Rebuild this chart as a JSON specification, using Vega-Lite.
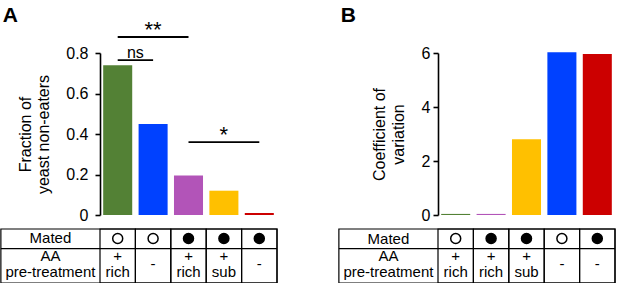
{
  "$schema": "https://vega.github.io/schema/vega-lite/v6.json",
  "padding": {"left": 0, "top": 4, "right": 0, "bottom": 0},
  "background": "white",
  "config": {
    "view": {"stroke": null},
    "font": "Liberation Sans",
    "axis": {
      "grid": false,
      "domainColor": "black",
      "domainWidth": 1.6,
      "tickColor": "black",
      "tickWidth": 1.6,
      "tickSize": 5,
      "labelFont": "Liberation Sans",
      "labelFontSize": 16,
      "labelColor": "black",
      "labelPadding": 3,
      "titleFont": "Liberation Sans",
      "titleFontSize": 16,
      "titleFontWeight": "normal",
      "titleColor": "black",
      "titleLineHeight": 18.5
    },
    "text": {"font": "Liberation Sans", "color": "black"}
  },
  "datasets": {
    "a": [
      {"cond": "unmated_rich", "value": 0.74, "mated": "no", "aa": "+\nrich"},
      {"cond": "unmated_none", "value": 0.45, "mated": "no", "aa": "-"},
      {"cond": "mated_rich", "value": 0.195, "mated": "yes", "aa": "+\nrich"},
      {"cond": "mated_sub", "value": 0.12, "mated": "yes", "aa": "+\nsub"},
      {"cond": "mated_none", "value": 0.01, "mated": "yes", "aa": "-"}
    ],
    "a_sig": [
      {"from": "unmated_rich", "to": "mated_rich", "mid": "unmated_none", "level": 0.879, "label": "**"},
      {"from": "unmated_rich", "to": "unmated_none", "mid": "unmated_none", "level": 0.765, "label": "ns"},
      {"from": "mated_rich", "to": "mated_none", "mid": "mated_sub", "level": 0.36, "label": "*"}
    ],
    "b": [
      {"cond": "unmated_rich", "value": 0.04, "mated": "no", "aa": "+\nrich"},
      {"cond": "mated_rich", "value": 0.04, "mated": "yes", "aa": "+\nrich"},
      {"cond": "mated_sub", "value": 2.81, "mated": "yes", "aa": "+\nsub"},
      {"cond": "unmated_none", "value": 6.03, "mated": "no", "aa": "-"},
      {"cond": "mated_none", "value": 5.96, "mated": "yes", "aa": "-"}
    ]
  },
  "hconcat": [
    {
      "width": 177,
      "height": 162,
      "resolve": {"scale": {"x": "independent"}},
      "layer": [
        {
          "data": {"name": "a"},
          "layer": [
            {
              "mark": {"type": "rect", "fillOpacity": 0, "stroke": "black", "strokeWidth": 1.2},
              "encoding": {
                "x": {"field": "cond", "type": "nominal", "scale": {"domain": ["unmated_rich", "unmated_none", "mated_rich", "mated_sub", "mated_none"], "paddingInner": 0, "paddingOuter": 0}, "axis": null},
                "y": {"datum": -0.0691, "type": "quantitative"},
                "y2": {"datum": -0.3358}
              }
            },
            {
              "mark": {"type": "bar", "width": {"band": 0.82}},
              "encoding": {
                "x": {"field": "cond", "type": "nominal", "scale": {"domain": ["unmated_rich", "unmated_none", "mated_rich", "mated_sub", "mated_none"], "paddingInner": 0, "paddingOuter": 0}, "axis": null},
                "y": {"field": "value", "type": "quantitative", "scale": {"domain": [0, 0.8], "nice": false, "zero": false},
                  "axis": {"values": [0, 0.2, 0.4, 0.6, 0.8], "labelExpr": "datum.value === 0 ? '0' : format(datum.value, '.1f')", "title": ["Fraction of", "yeast non-eaters"], "labelPadding": 7, "titlePadding": 14}},
                "color": {"field": "cond", "type": "nominal", "scale": {"domain": ["unmated_rich", "unmated_none", "mated_rich", "mated_sub", "mated_none"], "range": ["#538135", "#0041ff", "#b254b8", "#ffc000", "#cc0000"]}, "legend": null}
              }
            },
            {
              "mark": {"type": "point", "shape": "circle", "filled": true, "stroke": "black", "strokeWidth": 1.5, "size": 100, "opacity": 1},
              "encoding": {
                "x": {"field": "cond", "type": "nominal", "scale": {"domain": ["unmated_rich", "unmated_none", "mated_rich", "mated_sub", "mated_none"], "paddingInner": 0, "paddingOuter": 0}, "axis": null},
                "y": {"datum": -0.116, "type": "quantitative"},
                "fill": {"field": "mated", "type": "nominal", "scale": {"domain": ["no", "yes"], "range": ["white", "black"]}, "legend": null}
              }
            },
            {
              "transform": [{"filter": "datum.aa !== '-'"}],
              "mark": {"type": "text", "fontSize": 15, "lineBreak": "\n", "lineHeight": 16, "baseline": "middle", "align": "center"},
              "encoding": {
                "x": {"field": "cond", "type": "nominal", "scale": {"domain": ["unmated_rich", "unmated_none", "mated_rich", "mated_sub", "mated_none"], "paddingInner": 0, "paddingOuter": 0}, "axis": null},
                "y": {"datum": -0.2049, "type": "quantitative"},
                "text": {"field": "aa"}
              }
            },
            {
              "transform": [{"filter": "datum.aa === '-'"}],
              "mark": {"type": "text", "fontSize": 15, "baseline": "middle", "align": "center"},
              "encoding": {
                "x": {"field": "cond", "type": "nominal", "scale": {"domain": ["unmated_rich", "unmated_none", "mated_rich", "mated_sub", "mated_none"], "paddingInner": 0, "paddingOuter": 0}, "axis": null},
                "y": {"datum": -0.242, "type": "quantitative"},
                "text": {"field": "aa"}
              }
            },
            {
              "data": {"name": "a_sig"},
              "mark": {"type": "rule", "strokeWidth": 1.8, "color": "black"},
              "encoding": {
                "x": {"field": "from", "type": "nominal", "scale": {"domain": ["unmated_rich", "unmated_none", "mated_rich", "mated_sub", "mated_none"], "paddingInner": 0, "paddingOuter": 0}, "axis": null},
                "x2": {"field": "to"},
                "y": {"field": "level", "type": "quantitative"}
              }
            },
            {
              "data": {"name": "a_sig"},
              "transform": [{"filter": "datum.label !== 'ns'"}],
              "mark": {"type": "text", "fontSize": 22, "baseline": "alphabetic", "align": "center", "dy": 0},
              "encoding": {
                "x": {"field": "mid", "type": "nominal", "scale": {"domain": ["unmated_rich", "unmated_none", "mated_rich", "mated_sub", "mated_none"], "paddingInner": 0, "paddingOuter": 0}, "axis": null},
                "y": {"field": "level", "type": "quantitative"},
                "text": {"field": "label"}
              }
            },
            {
              "data": {"name": "a_sig"},
              "transform": [{"filter": "datum.label === 'ns'"}],
              "mark": {"type": "text", "fontSize": 16, "baseline": "alphabetic", "align": "center", "dy": -2},
              "encoding": {
                "x": {"field": "mid", "type": "nominal", "bandPosition": 0, "scale": {"domain": ["unmated_rich", "unmated_none", "mated_rich", "mated_sub", "mated_none"], "paddingInner": 0, "paddingOuter": 0}, "axis": null},
                "y": {"field": "level", "type": "quantitative"},
                "text": {"field": "label"}
              }
            }
          ]
        },
        {
          "data": {"values": [{}]},
          "layer": [
            {
              "mark": {"type": "rect", "fillOpacity": 0, "stroke": "black", "strokeWidth": 1.2},
              "encoding": {
                "x": {"datum": -2.8, "type": "quantitative", "scale": {"domain": [0, 5], "nice": false, "zero": false}, "axis": null},
                "x2": {"datum": 5},
                "y": {"datum": -0.0691, "type": "quantitative"},
                "y2": {"datum": -0.3358}
              }
            },
            {
              "mark": {"type": "rule", "stroke": "black", "strokeWidth": 1.2},
              "encoding": {
                "x": {"datum": -2.8, "type": "quantitative", "scale": {"domain": [0, 5], "nice": false, "zero": false}, "axis": null},
                "x2": {"datum": 5},
                "y": {"datum": -0.166, "type": "quantitative"}
              }
            },
            {
              "mark": {"type": "text", "fontSize": 15, "baseline": "middle", "align": "center", "text": "Mated"},
              "encoding": {
                "x": {"datum": -1.4, "type": "quantitative", "scale": {"domain": [0, 5], "nice": false, "zero": false}, "axis": null},
                "y": {"datum": -0.116, "type": "quantitative"}
              }
            },
            {
              "mark": {"type": "text", "fontSize": 15, "baseline": "middle", "align": "center", "lineBreak": "\n", "lineHeight": 16, "text": "AA\npre-treatment"},
              "encoding": {
                "x": {"datum": -1.4, "type": "quantitative", "scale": {"domain": [0, 5], "nice": false, "zero": false}, "axis": null},
                "y": {"datum": -0.2049, "type": "quantitative"}
              }
            },
            {
              "mark": {"type": "text", "fontSize": 21, "fontWeight": "bold", "baseline": "alphabetic", "align": "left", "text": "A"},
              "encoding": {
                "x": {"datum": -2.75, "type": "quantitative", "scale": {"domain": [0, 5], "nice": false, "zero": false}, "axis": null},
                "y": {"datum": 0.953, "type": "quantitative"}
              }
            }
          ]
        }
      ]
    },
    {
      "width": 177,
      "height": 162,
      "resolve": {"scale": {"x": "independent"}},
      "layer": [
        {
          "data": {"name": "b"},
          "layer": [
            {
              "mark": {"type": "rect", "fillOpacity": 0, "stroke": "black", "strokeWidth": 1.2},
              "encoding": {
                "x": {"field": "cond", "type": "nominal", "scale": {"domain": ["unmated_rich", "mated_rich", "mated_sub", "unmated_none", "mated_none"], "paddingInner": 0, "paddingOuter": 0}, "axis": null},
                "y": {"datum": -0.5185, "type": "quantitative"},
                "y2": {"datum": -2.5185}
              }
            },
            {
              "mark": {"type": "bar", "width": {"band": 0.82}},
              "encoding": {
                "x": {"field": "cond", "type": "nominal", "scale": {"domain": ["unmated_rich", "mated_rich", "mated_sub", "unmated_none", "mated_none"], "paddingInner": 0, "paddingOuter": 0}, "axis": null},
                "y": {"field": "value", "type": "quantitative", "scale": {"domain": [0, 6], "nice": false, "zero": false},
                  "axis": {"values": [0, 2, 4, 6], "title": ["Coefficient of", "variation"], "labelPadding": 3, "titlePadding": 15}},
                "color": {"field": "cond", "type": "nominal", "scale": {"domain": ["unmated_rich", "unmated_none", "mated_rich", "mated_sub", "mated_none"], "range": ["#538135", "#0041ff", "#b254b8", "#ffc000", "#cc0000"]}, "legend": null}
              }
            },
            {
              "mark": {"type": "point", "shape": "circle", "filled": true, "stroke": "black", "strokeWidth": 1.5, "size": 100, "opacity": 1},
              "encoding": {
                "x": {"field": "cond", "type": "nominal", "scale": {"domain": ["unmated_rich", "mated_rich", "mated_sub", "unmated_none", "mated_none"], "paddingInner": 0, "paddingOuter": 0}, "axis": null},
                "y": {"datum": -0.8704, "type": "quantitative"},
                "fill": {"field": "mated", "type": "nominal", "scale": {"domain": ["no", "yes"], "range": ["white", "black"]}, "legend": null}
              }
            },
            {
              "transform": [{"filter": "datum.aa !== '-'"}],
              "mark": {"type": "text", "fontSize": 15, "lineBreak": "\n", "lineHeight": 16, "baseline": "middle", "align": "center"},
              "encoding": {
                "x": {"field": "cond", "type": "nominal", "scale": {"domain": ["unmated_rich", "mated_rich", "mated_sub", "unmated_none", "mated_none"], "paddingInner": 0, "paddingOuter": 0}, "axis": null},
                "y": {"datum": -1.537, "type": "quantitative"},
                "text": {"field": "aa"}
              }
            },
            {
              "transform": [{"filter": "datum.aa === '-'"}],
              "mark": {"type": "text", "fontSize": 15, "baseline": "middle", "align": "center"},
              "encoding": {
                "x": {"field": "cond", "type": "nominal", "scale": {"domain": ["unmated_rich", "mated_rich", "mated_sub", "unmated_none", "mated_none"], "paddingInner": 0, "paddingOuter": 0}, "axis": null},
                "y": {"datum": -1.8148, "type": "quantitative"},
                "text": {"field": "aa"}
              }
            }
          ]
        },
        {
          "data": {"values": [{}]},
          "layer": [
            {
              "mark": {"type": "rect", "fillOpacity": 0, "stroke": "black", "strokeWidth": 1.2},
              "encoding": {
                "x": {"datum": -2.8, "type": "quantitative", "scale": {"domain": [0, 5], "nice": false, "zero": false}, "axis": null},
                "x2": {"datum": 5},
                "y": {"datum": -0.5185, "type": "quantitative"},
                "y2": {"datum": -2.5185}
              }
            },
            {
              "mark": {"type": "rule", "stroke": "black", "strokeWidth": 1.2},
              "encoding": {
                "x": {"datum": -2.8, "type": "quantitative", "scale": {"domain": [0, 5], "nice": false, "zero": false}, "axis": null},
                "x2": {"datum": 5},
                "y": {"datum": -1.248, "type": "quantitative"}
              }
            },
            {
              "mark": {"type": "text", "fontSize": 15, "baseline": "middle", "align": "center", "text": "Mated"},
              "encoding": {
                "x": {"datum": -1.4, "type": "quantitative", "scale": {"domain": [0, 5], "nice": false, "zero": false}, "axis": null},
                "y": {"datum": -0.8704, "type": "quantitative"}
              }
            },
            {
              "mark": {"type": "text", "fontSize": 15, "baseline": "middle", "align": "center", "lineBreak": "\n", "lineHeight": 16, "text": "AA\npre-treatment"},
              "encoding": {
                "x": {"datum": -1.4, "type": "quantitative", "scale": {"domain": [0, 5], "nice": false, "zero": false}, "axis": null},
                "y": {"datum": -1.537, "type": "quantitative"}
              }
            },
            {
              "mark": {"type": "text", "fontSize": 21, "fontWeight": "bold", "baseline": "alphabetic", "align": "left", "text": "B"},
              "encoding": {
                "x": {"datum": -2.75, "type": "quantitative", "scale": {"domain": [0, 5], "nice": false, "zero": false}, "axis": null},
                "y": {"datum": 7.15, "type": "quantitative"}
              }
            }
          ]
        }
      ]
    }
  ],
  "spacing": 60
}
